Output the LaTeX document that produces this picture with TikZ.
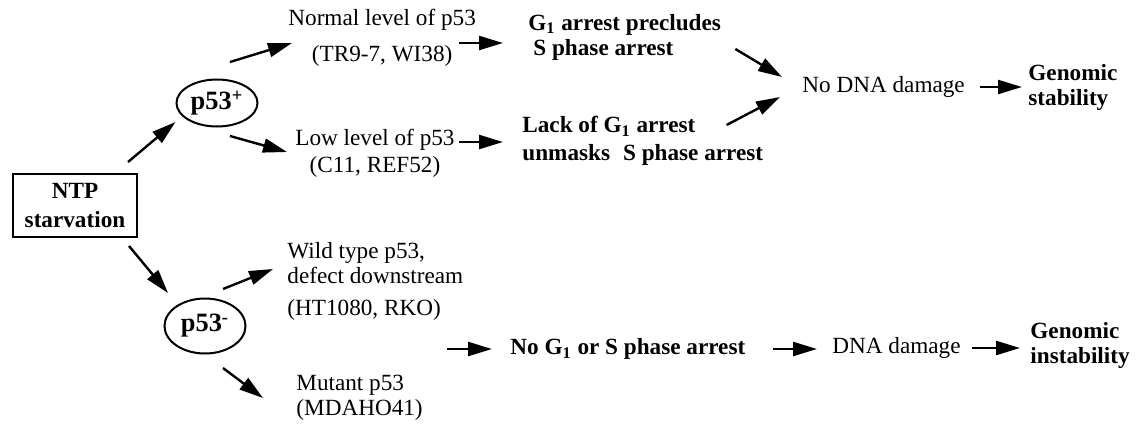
\documentclass[tikz,border=0pt]{standalone}
\usepackage{fontspec}
\setmainfont{Liberation Serif}
\usetikzlibrary{arrows.meta,shapes.geometric}

\tikzset{
  arr/.style={-{Triangle[length=12pt,width=7pt]},line width=1.2pt},
  lbl/.style={inner sep=0pt,anchor=west,font=\fontsize{11.6}{12.5}\selectfont},
  blbl/.style={lbl,font=\fontsize{11.6}{12.5}\selectfont\bfseries},
  pnode/.style={draw,ellipse,line width=1pt,inner sep=0pt,minimum width=40.5pt,
    font=\fontsize{13.2}{14}\selectfont\bfseries}
}

\begin{document}
\begin{tikzpicture}[x=0.5pt,y=-0.5pt]
  \useasboundingbox (0,0) rectangle (1137,424);

  % Start box and the two p53 branches
  \node[draw,line width=1pt,minimum width=62pt,minimum height=31.5pt,inner sep=0pt,
    align=center,font=\fontsize{11.6}{14.5}\selectfont\bfseries] (ntp) at (75,205.5) {NTP\\starvation};
  \node[pnode,minimum height=23.5pt] (pplus) at (217,103) {p53\textsuperscript{+}};
  \node[pnode,minimum height=27.5pt] (pminus) at (205,326) {p53\textsuperscript{-}};

  % Upper branch
  \node[lbl,align=center] (normal) at (288,38) {Normal level of p53\\[5.5pt](TR9-7, WI38)};
  \node[lbl,align=center] (low) at (295,153) {Low level of p53\\[1pt](C11, REF52)};
  \node[blbl,align=left] (g1) at (528,37) {G\textsubscript{1} arrest precludes\\\hspace*{2.5pt}S phase arrest};
  \node[blbl,align=left] (lack) at (522,141) {Lack of G\textsubscript{1} arrest\\[1.5pt]unmasks\hspace{6.5pt}S phase arrest};
  \node[lbl] (nodna) at (802,87) {No DNA damage};
  \node[blbl,align=left] (stab) at (1028,87) {Genomic\\stability};

  % Lower branch
  \node[lbl,align=left] (wild) at (287,281) {Wild type p53,\\defect downstream\\[3.5pt](HT1080, RKO)};
  \node[lbl,align=left] (mutant) at (296,398) {Mutant p53\\(MDAHO41)};
  \coordinate (nogin) at (447,349);
  \node[blbl] (nog1) at (510,349) {No G\textsubscript{1} or S phase arrest};
  \node[lbl] (dna) at (832,348) {DNA damage};
  \node[blbl,align=left] (instab) at (1030,345) {Genomic\\instability};

  % Arrows
  \draw[arr] ([shift={(-10,-11)}]ntp.north east) -- ([shift={(0,19)}]pplus.west);
  \draw[arr] ([shift={(13,-16.5)}]pplus.north) -- ([shift={(4,5)}]normal.west);
  \draw[arr] ([shift={(13,8.5)}]pplus.south) -- ([shift={(-8,-1)}]low.west);
  \draw[arr] ([shift={(-17,5)}]normal.east) -- ([shift={(-25,6)}]g1.west);
  \draw[arr] ([shift={(4,-11)}]low.east) -- ([shift={(-19,1)}]lack.west);
  \draw[arr] ([shift={(14,12)}]g1.east) -- ([shift={(-20,-10)}]nodna.west);
  \draw[arr] ([shift={(-37,-16)}]lack.east) -- ([shift={(-22,10)}]nodna.west);
  \draw[arr] ([shift={(15,0)}]nodna.east) -- ([shift={(-6,0)}]stab.west);

  \draw[arr] ([shift={(-9,8)}]ntp.south east) -- ([shift={(-37,-4.5)}]pminus.north);
  \draw[arr] ([shift={(18,-8.5)}]pminus.north) -- ([shift={(-14,-12)}]wild.west);
  \draw[arr] ([shift={(18,13.5)}]pminus.south) -- ([shift={(-33,0)}]mutant.west);
  \draw[arr] (nogin) -- ([shift={(-18,0)}]nog1.west);
  \draw[arr] ([shift={(27,0)}]nog1.east) -- ([shift={(-15,1)}]dna.west);
  \draw[arr] ([shift={(11,0)}]dna.east) -- ([shift={(-10,3)}]instab.west);
\end{tikzpicture}
\end{document}
